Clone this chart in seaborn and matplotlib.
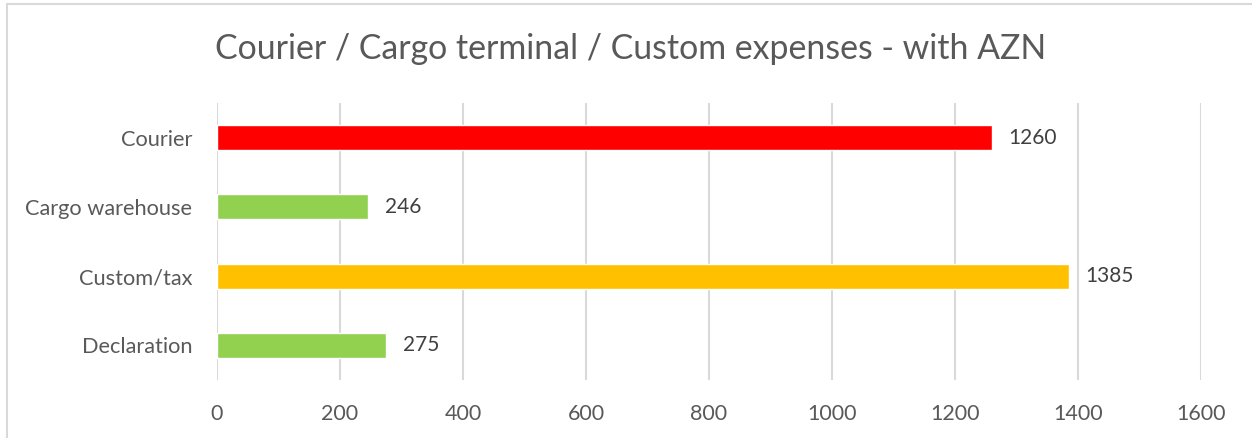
import pandas as pd
import matplotlib
matplotlib.use("Agg")
import matplotlib.pyplot as plt
import seaborn as sns
from matplotlib.lines import Line2D

# Data
categories = ["Courier", "Cargo warehouse", "Custom/tax", "Declaration"]
values = [1260, 246, 1385, 275]
colors = ["#FF0000", "#92D050", "#FFC000", "#92D050"]
x_ticks = [0, 200, 400, 600, 800, 1000, 1200, 1400, 1600]

df = pd.DataFrame({"Category": categories, "Value": values})

sns.set_style("white")
plt.rcParams["font.family"] = ["Lato", "DejaVu Sans"]
text_col = "#595959"
grid_col = "#D9D9D9"

fig = plt.figure(figsize=(12.52, 4.38), dpi=100)
ax = fig.add_axes([217 / 1252, 58 / 438, 984 / 1252, 277 / 438])

sns.barplot(data=df, x="Value", y="Category", hue="Category",
            palette=colors, orient="h", width=0.36, legend=False,
            saturation=1, ax=ax, zorder=3)

ax.set_xlim(0, 1600)
ax.set_ylim(3.5, -0.5)
ax.set_xticks(x_ticks)
ax.set_xticklabels([str(t) for t in x_ticks])
ax.xaxis.grid(True, color=grid_col, linewidth=1.5, zorder=0)
ax.set_axisbelow(True)
for s in ax.spines.values():
    s.set_visible(False)
ax.tick_params(axis="x", length=0, pad=17, labelsize=15.5, labelcolor=text_col)
ax.tick_params(axis="y", length=0, pad=18, labelsize=15.7, labelcolor=text_col)
ax.set_xlabel("")
ax.set_ylabel("")

for cont in ax.containers:
    ax.bar_label(cont, padding=12, fontsize=15, color="#404040")

fig.text(631 / 1252, 1 - 49 / 438, "Courier / Cargo terminal / Custom expenses - with AZN",
         ha="center", va="center", fontsize=24.4, color=text_col)

# chart area border (Excel style)
fig.add_artist(Line2D([7 / 1252, 1.0], [1 - 4 / 438, 1 - 4 / 438], color=grid_col, lw=1.5))
fig.add_artist(Line2D([7 / 1252, 7 / 1252], [0, 1 - 4 / 438], color=grid_col, lw=1.5))

fig.savefig("out.png", dpi=100)
